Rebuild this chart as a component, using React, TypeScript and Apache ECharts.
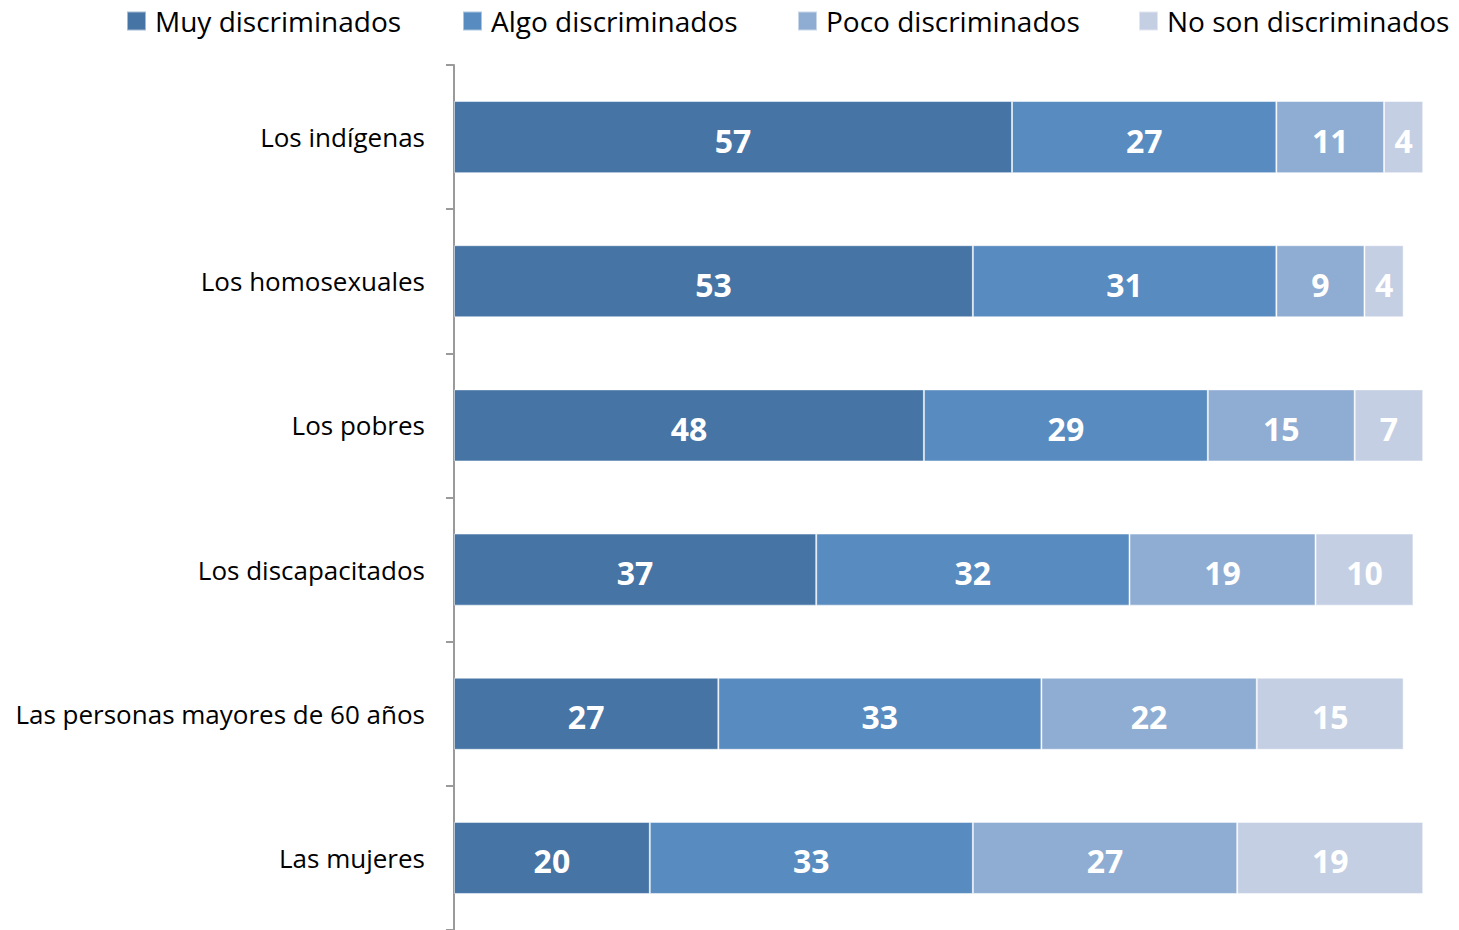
import React, { useEffect, useRef } from "react";
import * as echarts from "echarts";

const categories = [
  "Los indígenas",
  "Los homosexuales",
  "Los pobres",
  "Los discapacitados",
  "Las personas mayores de 60 años",
  "Las mujeres",
];
const seriesNames = [
  "Muy discriminados",
  "Algo discriminados",
  "Poco discriminados",
  "No son discriminados",
];
const muy = [57, 53, 48, 37, 27, 20];
const algo = [27, 31, 29, 32, 33, 33];
const poco = [11, 9, 15, 19, 22, 27];
const noSon = [4, 4, 7, 10, 15, 19];
const seriesValues = [muy, algo, poco, noSon];
const colors = ["#4674A5", "#588BBF", "#8FADD2", "#C4CFE3"];
const legendLeft = [126, 462, 797, 1138];

const FONT = "'Open Sans', sans-serif";

export default function App() {
  const ref = useRef<HTMLDivElement>(null);
  useEffect(() => {
    if (!ref.current) return;
    const chart = echarts.init(ref.current, null, { renderer: "svg" });
    const cats = [...categories].reverse();
    chart.setOption({
      animation: false,
      legend: seriesNames.map((n, i) => ({
        data: [n],
        left: legendLeft[i],
        top: 7,
        padding: 0,
        icon: "rect",
        itemWidth: 19,
        itemHeight: 19,
        itemGap: 8,
        textStyle: {
          fontFamily: FONT,
          fontSize: 28,
          color: "#000",
          padding: [5, 0, 0, 4],
        },
        selectedMode: false,
      })),
      grid: { left: 454, right: 26, top: 65, bottom: -3, containLabel: false },
      xAxis: {
        type: "value",
        min: 0,
        max: 100,
        show: false,
      },
      yAxis: {
        type: "category",
        data: cats,
        axisLine: { show: true, lineStyle: { color: "#9A9A9A", width: 2 } },
        axisTick: { show: true, length: 8, lineStyle: { color: "#9A9A9A", width: 2 } },
        axisLabel: {
          margin: 29,
          fontFamily: FONT,
          fontSize: 26,
          color: "#000",
        },
        splitLine: { show: false },
      },
      series: seriesValues.map((vals, i) => ({
        name: seriesNames[i],
        type: "bar",
        stack: "total",
        barWidth: "50%",
        data: [...vals].reverse(),
        itemStyle: {
          color: colors[i],
          borderColor: "rgba(255,255,255,0.5)",
          borderWidth: 1,
        },
        label: {
          show: true,
          position: "inside",
          offset: [0, 3],
          color: "#fff",
          fontFamily: FONT,
          fontWeight: "bold",
          fontSize: 32,
        },
      })),
    });
    return () => chart.dispose();
  }, []);
  return (
    <div
      ref={ref}
      style={{ position: "absolute", left: 0, top: 0, width: 1459, height: 930, background: "#fff" }}
    />
  );
}
